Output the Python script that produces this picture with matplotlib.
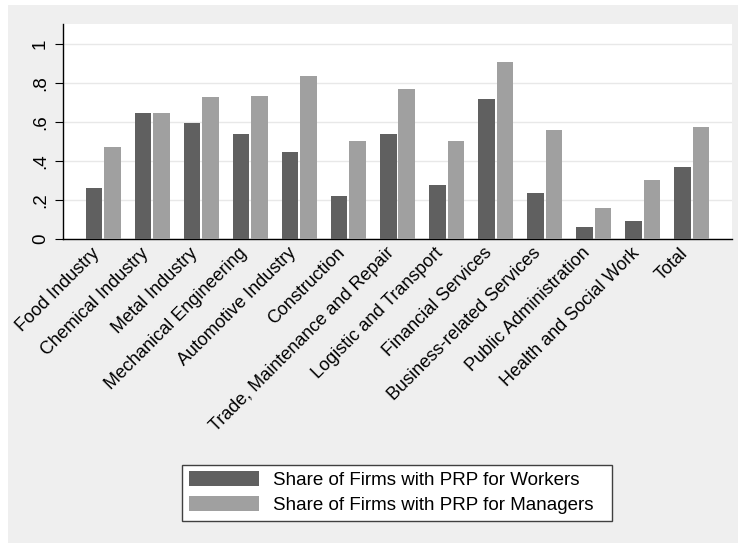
import matplotlib
matplotlib.use("Agg")
import matplotlib.pyplot as plt
import numpy as np
from matplotlib.patches import Rectangle

plt.rcParams['font.family'] = ['Liberation Sans', 'DejaVu Sans']

categories = ["Food Industry", "Chemical Industry", "Metal Industry",
              "Mechanical Engineering", "Automotive Industry", "Construction",
              "Trade, Maintenance and Repair", "Logistic and Transport",
              "Financial Services", "Business-related Services",
              "Public Administration", "Health and Social Work", "Total"]
workers = [0.26, 0.645, 0.593, 0.538, 0.446, 0.222, 0.538, 0.279, 0.716,
           0.234, 0.062, 0.091, 0.371]
managers = [0.473, 0.645, 0.728, 0.733, 0.836, 0.501, 0.771, 0.501, 0.908,
            0.559, 0.159, 0.303, 0.573]
yticks = [0, 0.2, 0.4, 0.6, 0.8, 1.0]
yticklabels = ["0", ".2", ".4", ".6", ".8", "1"]
legend_labels = ["Share of Firms with PRP for Workers",
                 "Share of Firms with PRP for Managers"]

W, H = 738, 543
FS = 13.5
fig = plt.figure(figsize=(W / 100, H / 100), dpi=100)
fig.patch.set_facecolor("white")
fig.patches.append(Rectangle((8 / W, 0), 1 - 8 / W, 1 - 5 / H,
                             transform=fig.transFigure, facecolor="#efefef",
                             edgecolor="none", zorder=-10))

ax = fig.add_axes([63 / W, (H - 239) / H, 669 / W, 215 / H])
ax.set_facecolor("white")

x = np.arange(len(categories))
off = 0.19
bw = 0.34
ax.bar(x - off, workers, width=bw, color="#606060", edgecolor="none",
       label=legend_labels[0], zorder=3)
ax.bar(x + off, managers, width=bw, color="#a0a0a0", edgecolor="none",
       label=legend_labels[1], zorder=3)

ax.set_xlim(-0.822, len(categories) - 1 + 0.822)
ax.set_ylim(0, 1.103)
ax.set_yticks(yticks)
ax.set_yticklabels(yticklabels, rotation=90, va="center", fontsize=FS)
ax.yaxis.grid(True, color="#e8e8e8", linewidth=1.0, zorder=0)
ax.set_axisbelow(True)

ax.set_xticks(x)
ax.set_xticklabels(categories, rotation=45, ha="right", va="top", fontsize=13)
ax.tick_params(axis="x", length=0, pad=4)
ax.tick_params(axis="y", length=6, width=0.8, pad=4, color="black")

for s in ["top", "right"]:
    ax.spines[s].set_visible(False)
ax.spines["left"].set_linewidth(1.0)
ax.spines["bottom"].set_linewidth(1.0)

leg = fig.legend(loc="lower left",
                 bbox_to_anchor=(182 / W, 1 - 520.7 / H, 430 / W, 59 / H),
                 mode="expand",
                 fontsize=FS, frameon=True, fancybox=False,
                 edgecolor="#404040", facecolor="white", framealpha=1,
                 handlelength=3.75, handleheight=0.85, handletextpad=0.75,
                 labelspacing=0.38, borderpad=0.35, borderaxespad=0)
leg.get_frame().set_linewidth(1.0)

fig.savefig("out.png", dpi=100, facecolor=fig.get_facecolor())
